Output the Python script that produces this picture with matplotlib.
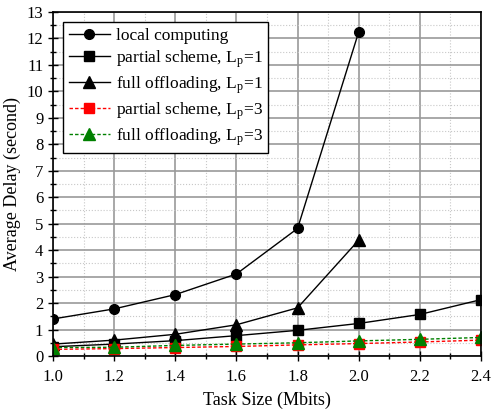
import matplotlib
matplotlib.use('Agg')
import matplotlib.pyplot as plt
from matplotlib.ticker import MultipleLocator

task_size = [1.0, 1.2, 1.4, 1.6, 1.8, 2.0, 2.2, 2.4]
local_computing = [1.40, 1.78, 2.32, 3.10, 4.82, 12.25]
partial_lp1 = [0.35, 0.45, 0.58, 0.77, 0.97, 1.23, 1.57, 2.13]
full_lp1 = [0.45, 0.60, 0.82, 1.18, 1.82, 4.38]
partial_lp3 = [0.25, 0.28, 0.32, 0.36, 0.42, 0.47, 0.53, 0.60]
full_lp3 = [0.32, 0.33, 0.40, 0.45, 0.50, 0.57, 0.63, 0.70]

plt.rcParams['font.family'] = ['Liberation Serif', 'DejaVu Serif']
plt.rcParams['mathtext.fontset'] = 'stix'

fig = plt.figure(figsize=(4.91, 4.16), dpi=100)
ax = fig.add_axes([53/491, 60/416, 428/491, 344/416])

ax.plot(task_size[:6], local_computing, 'k-', marker='o', ms=7, lw=1,
        label='local computing')
ax.plot(task_size, partial_lp1, 'k-', marker='s', ms=7, lw=1,
        label='partial scheme, L$_\\mathregular{p}$=1')
ax.plot(task_size[:6], full_lp1, 'k-', marker='^', ms=8, lw=1,
        label='full offloading, L$_\\mathregular{p}$=1')
ax.plot(task_size, partial_lp3, color='red', ls='--', dashes=(2.5, 1.5),
        marker='s', ms=7, lw=1, label='partial scheme, L$_\\mathregular{p}$=3')
ax.plot(task_size, full_lp3, color='green', ls='--', dashes=(2.5, 1.5),
        marker='^', ms=8, lw=1, label='full offloading, L$_\\mathregular{p}$=3')

ax.set_xlim(1.0, 2.4)
ax.set_ylim(0, 13)
ax.xaxis.set_major_locator(MultipleLocator(0.2))
ax.xaxis.set_minor_locator(MultipleLocator(0.1))
ax.yaxis.set_major_locator(MultipleLocator(1))
ax.yaxis.set_minor_locator(MultipleLocator(0.5))
ax.xaxis.set_major_formatter(plt.FormatStrFormatter('%.1f'))

ax.grid(which='major', color='#9a9a9a', lw=1.2)
ax.grid(which='minor', color='#c8c8c8', lw=0.8, ls=':')
ax.set_axisbelow(True)

ax.tick_params(which='major', direction='inout', length=7, width=1,
               labelsize=12)
ax.tick_params(axis='x', which='major', pad=6)
ax.tick_params(which='minor', direction='inout', length=4, width=1)
for s in ax.spines.values():
    s.set_linewidth(1.2)

ax.set_xlabel('Task Size (Mbits)', fontsize=13, labelpad=5)
ax.set_ylabel('Average Delay (second)', fontsize=13)

leg = ax.legend(loc='upper left', fontsize=12.5, fancybox=False,
                edgecolor='black', framealpha=1, handlelength=2.4,
                borderaxespad=0.6, labelspacing=0.25, handletextpad=0.3,
                borderpad=0.3)
leg.get_frame().set_linewidth(1)

fig.savefig('out.png', dpi=100)
